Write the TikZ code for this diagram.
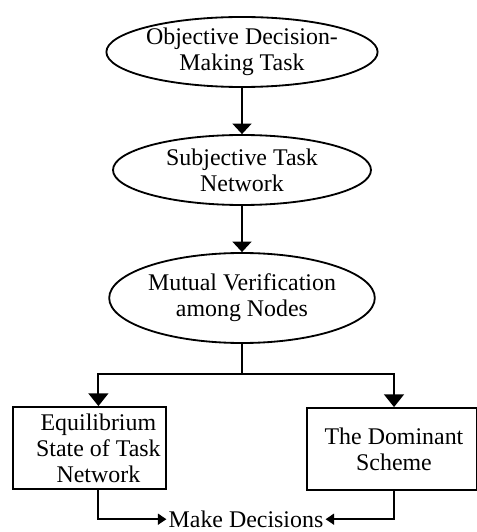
\documentclass[tikz,border=0pt]{standalone}
\usepackage{fontspec}
\setmainfont{Liberation Serif}
\usepackage{tikz}
\usetikzlibrary{positioning, arrows.meta, shapes.geometric}

\tikzset{
  stage/.style={ellipse, draw, line width=1.3pt, minimum width=6.45cm,
                minimum height=1.75cm, inner sep=0pt, align=center},
  result/.style={rectangle, draw, line width=1.3pt, inner sep=0pt},
  flow/.style={line width=1.3pt, -{Triangle[width=0.47cm, length=0.26cm]}},
  branch/.style={line width=1.3pt, -{Triangle[width=0.5cm, length=0.32cm]}},
  merge/.style={line width=1.3pt, -{Triangle[width=0.27cm, length=0.21cm]}},
  plain/.style={line width=1.3pt}
}

\begin{document}
\begin{tikzpicture}[every node/.style={font=\fontsize{17pt}{18.5pt}\selectfont}]
      \useasboundingbox (0,0) rectangle (11.925,13.3);
      \node[stage] (obj) at (6.05,12.0) {Objective Decision-\\Making Task};
      \node[stage] (sub) at (6.05,9.05) {Subjective Task\\Network};
      \node[stage, minimum height=2.25cm] (mv) at (6.05,5.85) {Mutual Verification\\among Nodes};
      \coordinate (split) at (6.05,3.95);
      % two outcome boxes, text sits right of the box centre
      \node[result, minimum width=3.825cm, minimum height=2.05cm] (eq) at (2.2375,2.1) {};
      \node[align=center] (eqtext) at (2.46,2.1) {Equilibrium\\State of Task\\Network};
      \node[result, minimum width=4.25cm, minimum height=2.05cm] (ds) at (9.79,2.075) {};
      \node[align=center] (dstext) at (9.85,2.075) {The Dominant\\Scheme};
      \node[inner xsep=0.05cm, inner ysep=0pt] (md) at (6.15,0.32) {Make Decisions};
      \draw[flow] (obj) -- (sub);
      \draw[flow] (sub) -- (mv);
      \draw[plain] (mv) -- (split);
      \draw[branch] (split) -| (eqtext |- eq.north);
      \draw[branch] (split) -| (dstext |- ds.north);
      % both outcomes lead to the decision
      \draw[merge] (eqtext |- eq.south) |- (md.west);
      \draw[merge] (dstext |- ds.south) |- (md.east);
    \end{tikzpicture}
\end{document}
